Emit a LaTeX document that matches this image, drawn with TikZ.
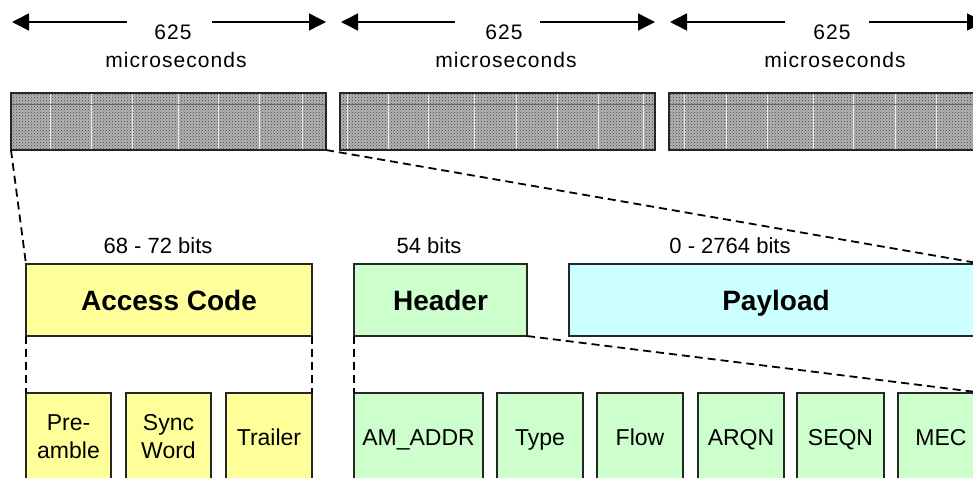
\documentclass[tikz,border=0pt]{standalone}
\usepackage{fontspec}
\setmainfont{Liberation Sans}
\newfontfamily\spacedfont[LetterSpace=5]{Liberation Sans}
\usetikzlibrary{arrows.meta,patterns}
\definecolor{acyel}{HTML}{FFFF99}
\definecolor{hdgrn}{HTML}{CCFFCC}
\definecolor{plcyn}{HTML}{CCFFFF}
\definecolor{slotgray}{HTML}{B4B4B4}
\begin{document}
\begin{tikzpicture}[x=1pt,y=-1pt,
  slotbox/.style={draw=black!85, line width=1.3pt, fill=slotgray, minimum width=315pt, minimum height=57pt, inner sep=0pt, outer sep=0pt},
  bigfield/.style={draw=black!85, line width=1.3pt, minimum height=72pt, inner sep=0pt, outer sep=0pt,
    font=\fontsize{28}{32}\selectfont\bfseries, text height=20pt, text depth=0pt},
  subfield/.style={draw=black!85, line width=1.3pt, minimum height=88pt, inner sep=0pt, outer sep=0pt,
    font=\fontsize{23}{28}\selectfont, align=center},
  onel/.style={text height=16.5pt, text depth=0pt},
  toptxt/.style={font=\spacedfont\fontsize{21}{26}\selectfont, anchor=base, inner sep=0pt},
  bitstxt/.style={font=\fontsize{22}{26}\selectfont, anchor=base, inner sep=0pt},
  dimarrow/.style={line width=1.5pt, -{Triangle[length=17pt,width=17pt]}},
  zoomline/.style={line width=1.8pt, dash pattern=on 8pt off 5pt},
  divline/.style={white!85!gray, line width=0.7pt},
]
\useasboundingbox (0,0) rectangle (973,477);
\clip (0,0) rectangle (973,477);

% top dimension labels
\node[toptxt] (t1a) at (173,39) {625};
\node[toptxt] (t1b) at (176,67) {microseconds};
\node[toptxt] (t2a) at (504,39) {625};
\node[toptxt] (t2b) at (506,67) {microseconds};
\node[toptxt] (t3a) at (832,39) {625};
\node[toptxt] (t3b) at (835,67) {microseconds};

\coordinate (a1l) at (127,22); \coordinate (a1lt) at (12,22);
\coordinate (a1r) at (212,22); \coordinate (a1rt) at (326,22);
\coordinate (a2l) at (455,22); \coordinate (a2lt) at (341,22);
\coordinate (a2r) at (540,22); \coordinate (a2rt) at (655,22);
\coordinate (a3l) at (785,22); \coordinate (a3lt) at (670,22);
\coordinate (a3r) at (869,22); \coordinate (a3rt) at (984,22);
\draw[dimarrow] (a1l) -- (a1lt);
\draw[dimarrow] (a1r) -- (a1rt);
\draw[dimarrow] (a2l) -- (a2lt);
\draw[dimarrow] (a2r) -- (a2rt);
\draw[dimarrow] (a3l) -- (a3lt);
\draw[dimarrow] (a3r) -- (a3rt);

% slots
\node[slotbox] (s1) at (168.5,121.5) {};
\node[slotbox] (s2) at (497.5,121.5) {};
\node[slotbox] (s3) at (826.5,121.5) {};
\begin{scope}
  \fill[pattern=crosshatch dots, pattern color=black!75] (s1.north west) rectangle (s1.south east);
  \fill[pattern=crosshatch dots, pattern color=black!75] (s2.north west) rectangle (s2.south east);
  \fill[pattern=crosshatch dots, pattern color=black!75] (s3.north west) rectangle (s3.south east);
  \foreach \xx in {50,91,132,178,218,259,302} \draw[divline] (\xx,94) -- (\xx,149);
  \foreach \xx in {347,388,428,474,516,557,598,643} \draw[divline] (\xx,94) -- (\xx,149);
  \foreach \xx in {684,726,767,813,853,895,936} \draw[divline] (\xx,94) -- (\xx,149);
  \draw[black!60, line width=0.6pt] (12,104) -- (325,104);
  \draw[black!60, line width=0.6pt] (341,104) -- (654,104);
  \draw[black!60, line width=0.6pt] (670,104) -- (983,104);
\end{scope}
\draw[draw=black!85, line width=1.3pt] (s1.north west) rectangle (s1.south east);
\draw[draw=black!85, line width=1.3pt] (s2.north west) rectangle (s2.south east);
\draw[draw=black!85, line width=1.3pt] (s3.north west) rectangle (s3.south east);

% bit count labels
\node[bitstxt] (b1) at (158,253) {68 - 72 bits};
\node[bitstxt] (b2) at (429,253) {54 bits};
\node[bitstxt] (b3) at (730,253) {0 - 2764 bits};

% main fields
\node[bigfield, fill=acyel, minimum width=286pt] (ac) at (169,300) {Access Code};
\node[bigfield, fill=hdgrn, minimum width=173pt] (hd) at (440.5,300) {Header};
\node[bigfield, fill=plcyn, minimum width=414pt] (pl) at (776,300) {Payload};

% sub fields
\node[subfield, fill=acyel, minimum width=85pt] (pre) at (68.5,437) {Pre-\\amble};
\node[subfield, fill=acyel, minimum width=85pt] (sync) at (168.5,437) {Sync\\Word};
\node[subfield, onel, fill=acyel, minimum width=86pt] (trl) at (269,437) {Trailer};
\node[subfield, onel, fill=hdgrn, minimum width=129pt] (am) at (418.5,437) {AM\_ADDR};
\node[subfield, onel, fill=hdgrn, minimum width=86pt] (typ) at (540,437) {Type};
\node[subfield, onel, fill=hdgrn, minimum width=86pt] (flw) at (640,437) {Flow};
\node[subfield, onel, fill=hdgrn, minimum width=86pt] (arq) at (741,437) {ARQN};
\node[subfield, onel, fill=hdgrn, minimum width=87pt] (seq) at (840.5,437) {SEQN};
\node[subfield, onel, fill=hdgrn, minimum width=86pt] (mec) at (941,437) {MEC};

% zoom lines
\draw[zoomline] (s1.south west) -- (ac.north west);
\draw[zoomline] (s1.south east) -- (pl.north east);
\draw[zoomline] (ac.south west) -- (pre.north west);
\draw[zoomline] (ac.south east) -- (trl.north east);
\draw[zoomline] (hd.south west) -- (am.north west);
\draw[zoomline] (hd.south east) -- (mec.north east);
\end{tikzpicture}
\end{document}
